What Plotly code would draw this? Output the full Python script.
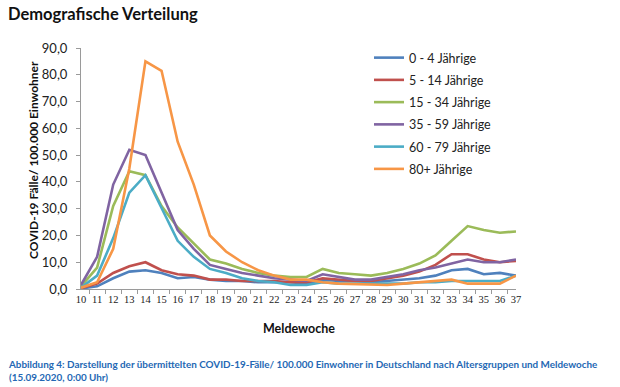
import plotly.graph_objects as go

weeks = [str(w) for w in range(10, 38)]

series_names = ["0 - 4 Jährige", "5 - 14 Jährige", "15 - 34 Jährige",
                "35 - 59 Jährige", "60 - 79 Jährige", "80+ Jährige"]

age_0_4 = [0.2, 1.0, 4.0, 6.5, 7.0, 6.0, 4.0, 4.5, 3.5, 3.0, 3.0, 2.5, 2.5, 2.5,
           2.0, 3.5, 3.0, 3.0, 2.5, 3.0, 3.5, 4.0, 5.0, 7.0, 7.5, 5.5, 6.0, 5.0]
age_5_14 = [0.3, 2.0, 6.0, 8.5, 10.0, 7.0, 5.5, 5.0, 3.5, 3.5, 3.0, 3.0, 3.0, 2.5,
            2.5, 4.0, 3.5, 3.0, 3.0, 4.0, 5.0, 6.5, 9.0, 13.0, 13.0, 11.0, 10.0, 10.5]
age_15_34 = [1.0, 8.0, 31.0, 44.0, 42.5, 31.0, 23.0, 17.0, 11.0, 9.5, 7.5, 6.0, 5.0, 4.5,
             4.5, 7.5, 6.0, 5.5, 5.0, 6.0, 7.5, 9.5, 12.5, 18.0, 23.5, 22.0, 21.0, 21.5]
age_35_59 = [1.5, 12.0, 39.0, 52.0, 50.0, 36.0, 22.0, 15.0, 9.0, 7.5, 6.0, 5.0, 4.0, 3.5,
             3.0, 5.5, 4.5, 3.5, 3.5, 4.5, 5.5, 7.0, 8.0, 9.5, 11.0, 10.0, 10.0, 11.0]
age_60_79 = [0.5, 5.0, 19.0, 36.0, 42.5, 30.0, 18.0, 12.0, 7.5, 6.0, 4.0, 3.0, 2.5, 1.5,
             1.5, 2.5, 2.0, 2.0, 2.0, 2.0, 2.0, 2.5, 2.5, 3.0, 3.0, 3.0, 3.0, 5.0]
age_80_plus = [0.5, 2.5, 15.0, 45.0, 85.0, 81.5, 55.0, 39.0, 20.0, 14.0, 10.0, 7.0, 5.0, 3.5,
               3.5, 2.5, 2.0, 1.8, 1.5, 1.5, 2.0, 2.5, 3.0, 3.5, 2.0, 2.0, 2.0, 5.0]

series_values = [age_0_4, age_5_14, age_15_34, age_35_59, age_60_79, age_80_plus]
colors = ["#4F81BD", "#C0504D", "#9BBB59", "#8064A2", "#4BACC6", "#F79646"]

y_ticks = [0, 10, 20, 30, 40, 50, 60, 70, 80, 90]

W, H = 620, 387
L, R, T, B = 81, 516, 48, 289

fig = go.Figure()
for i, (name, vals, col) in enumerate(zip(series_names, series_values, colors)):
    fig.add_trace(go.Scatter(
        x=weeks, y=vals, name=name, mode="lines",
        line=dict(color=col, width=2.6),
        legendgroup=str(i),
    ))

font = "Lato, 'Open Sans', sans-serif"

fig.update_layout(
    width=W, height=H,
    margin=dict(l=L, r=W - R, t=T, b=H - B, pad=0),
    paper_bgcolor="white", plot_bgcolor="white",
    separators=",.",
    font=dict(family=font, color="#222222"),
    showlegend=True,
    legend=dict(
        x=(369 - L) / (R - L), y=1 - (43 - T) / (B - T),
        xanchor="left", yanchor="top",
        font=dict(size=12.5, family=font, color="#222222"),
        itemwidth=30, tracegroupgap=3,
        bgcolor="rgba(0,0,0,0)",
    ),
    title=dict(
        text="<b>Demografische Verteilung</b>",
        xref="container", yref="container",
        x=8 / W, y=1 - 14 / H, xanchor="left", yanchor="middle",
        font=dict(size=16.5, family=font, color="#111111"),
    ),
)

fig.update_xaxes(
    type="category", tickson="boundaries", ticks="outside", ticklen=4,
    tickcolor="#9a9a9a", showline=True, linecolor="#9a9a9a", linewidth=1,
    showgrid=False, zeroline=False, tickangle=0, automargin=False,
    tickfont=dict(size=10.5, family="'Liberation Serif', serif", color="#222222"),
)
fig.update_yaxes(
    range=[0, 90], tickvals=y_ticks, tickformat=".1f",
    ticks="outside", ticklen=4, tickcolor="#9a9a9a",
    showline=True, linecolor="#9a9a9a", linewidth=1,
    showgrid=False, zeroline=False, automargin=False, ticklabelstandoff=6,
    tickfont=dict(size=13, family=font, color="#222222"),
)

fig.add_annotation(
    text="<b>COVID-19 Fälle/ 100.000 Einwohner</b>",
    xref="paper", yref="paper", x=(33 - L) / (R - L), y=(289 - 160) / (B - T),
    textangle=-90, showarrow=False, xanchor="center", yanchor="middle",
    font=dict(size=12, family=font, color="#111111"),
)
fig.add_annotation(
    text="<b>Meldewoche</b>",
    xref="paper", yref="paper", x=0.5, y=-(328 - B) / (B - T),
    showarrow=False, xanchor="center", yanchor="middle",
    font=dict(size=12.5, family=font, color="#111111"),
)
caption = ("<b>Abbildung 4: Darstellung der übermittelten COVID-19-Fälle/ 100.000 Einwohner "
           "in Deutschland nach Altersgruppen und Meldewoche<br>(15.09.2020, 0:00 Uhr)</b>")
fig.add_annotation(
    text=caption, xref="paper", yref="paper",
    x=-(L - 6) / (R - L), y=-(370.5 - B) / (B - T),
    showarrow=False, xanchor="left", yanchor="middle", align="left",
    font=dict(size=9.9, family=font, color="#2468B4"),
)

fig.write_html("out.html", post_script="document.body.style.margin='0';",
               config={"displayModeBar": False})
